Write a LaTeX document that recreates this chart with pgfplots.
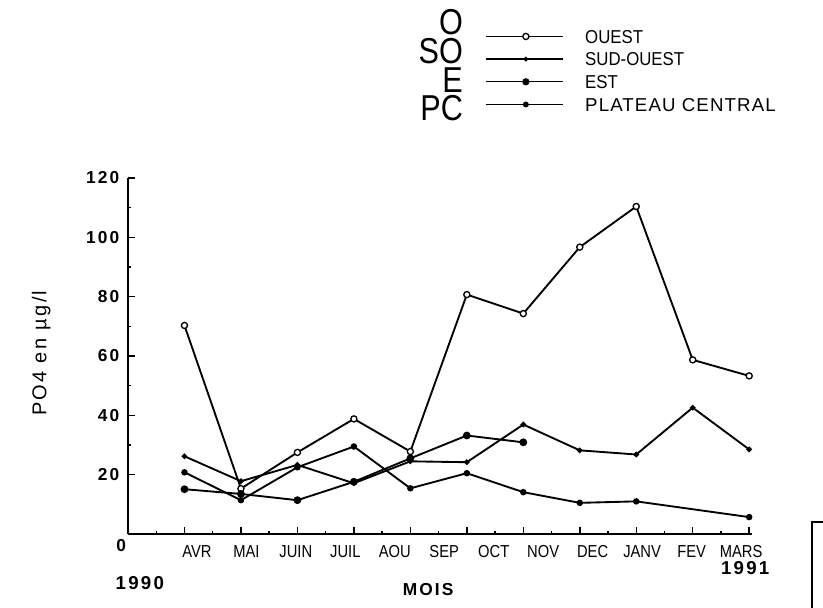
\documentclass[border=0pt]{standalone}
\usepackage{fontspec}
\setmainfont{Liberation Sans}
\newfontfamily\narrowfont[FakeStretch=0.9]{Liberation Sans}
\newfontfamily\monthfont[FakeStretch=0.85]{Liberation Sans}
\newfontfamily\widefont[LetterSpace=6]{Liberation Sans}
\newfontfamily\spacedfont[LetterSpace=12]{Liberation Sans}
\usepackage{graphicx}
\usepackage{pgfplots}
\pgfplotsset{compat=1.18}

\begin{document}
\begin{tikzpicture}
% frame of the scan: 823x607 px at 0.75pt/px, axis corner at px (128,534)
\useasboundingbox (-96pt,-54.75pt) rectangle (521.25pt,400.5pt);
\begin{axis}[
    at={(0pt,0pt)}, anchor=south west,
    scale only axis, width=468pt, height=267pt,
    xmin=0, xmax=11.05, ymin=0, ymax=120,
    axis x line*=bottom, axis y line*=left,
    axis line style={line width=1.6pt},
    xtick={0,...,11}, xticklabels={},
    minor x tick num=1,
    ytick={20,40,...,120}, minor y tick num=1,
    tick align=inside,
    major tick length=5pt, minor tick length=2.5pt,
    every tick/.style={black, line width=1.1pt},
    /pgf/number format/assume math mode=true,
    yticklabel style={font=\bfseries\spacedfont\fontsize{13}{13}\selectfont, xshift=-3pt},
    extra y ticks={0},
    extra y tick style={yticklabel style={yshift=-9pt, xshift=5pt}},
    % month names are set tighter than the ticks in the original
    extra x ticks={1.22,2.096,2.972,3.848,4.724,5.6,6.476,7.352,8.228,9.104,9.98,10.856},
    extra x tick labels={AVR,MAI,JUIN,JUIL,AOU,SEP,OCT,NOV,DEC,JANV,FEV,MARS},
    extra x tick style={major tick length=0pt, every tick/.style={draw=none},
        xticklabel style={font=\monthfont\fontsize{13}{13}\selectfont, yshift=-5pt}},
    ylabel={PO4 en µg/l},
    ylabel style={at={(axis description cs:-0.139,0.508)}, anchor=center,
        font=\spacedfont\fontsize{15}{15}\selectfont},
    xlabel={MOIS},
    xlabel style={at={(axis description cs:0.481,-0.157)}, anchor=center,
        font=\bfseries\spacedfont\fontsize{13}{13}\selectfont},
    legend style={at={(axis description cs:0.572,1.417)}, anchor=north west,
        draw=none, fill=none, inner sep=0pt, row sep=7pt,
        cells={anchor=west},
        nodes={inner sep=0pt, text height=10pt, text depth=0pt,
            font=\narrowfont\fontsize{14}{14}\selectfont},
        /tikz/every odd column/.append style={column sep=16pt}},
    legend image code/.code={
        \draw[mark repeat=2,mark phase=2,#1,line width=1pt] plot coordinates {(0pt,0pt) (30pt,0pt) (58pt,0pt)};
    },
    clip=false,
]
% OUEST
\addplot[black, line width=1.4pt, mark=*, mark size=2.3pt,
    mark options={fill=white, line width=1pt}] coordinates {
(1,70.3) (2,15.3) (3,27.5) (4,38.8) (5,27.8) (6,80.7)
(7,74.3) (8,96.7) (9,110.4) (10,58.7) (11,53.3)};
% SUD-OUEST
\addplot[black, line width=1.4pt, mark=*, mark size=1.3pt] coordinates {
(1,26.2) (2,17.8) (3,23.3) (4,17.1) (5,24.5) (6,24.2)
(7,36.9) (8,28.2) (9,26.8) (10,42.6) (11,28.5)};
% EST
\addplot[black, line width=1.4pt, mark=*, mark size=2.2pt] coordinates {
(1,15.1) (2,13.5) (3,11.4) (4,17.6) (5,25.5) (6,33.2) (7,30.9)};
% PLATEAU CENTRAL
\addplot[black, line width=1.4pt, mark=*, mark size=1.7pt] coordinates {
(1,20.8) (2,11.4) (3,22.5) (4,29.5) (5,15.4) (6,20.5)
(7,14.1) (8,10.5) (9,11) (11,5.7)};
\legend{OUEST,SUD-OUEST,EST,{\widefont PLATEAU CENTRAL}}

% big row letters, set tight as in the original
\node[anchor=east, inner sep=0pt, xscale=0.85, font=\fontsize{27}{27}\selectfont]
    at (axis description cs:0.537,1.438) {O};
\node[anchor=east, inner sep=0pt, xscale=0.85, font=\fontsize{27}{27}\selectfont]
    at (axis description cs:0.537,1.357) {SO};
\node[anchor=east, inner sep=0pt, xscale=0.85, font=\fontsize{27}{27}\selectfont]
    at (axis description cs:0.537,1.276) {E};
\node[anchor=east, inner sep=0pt, xscale=0.85, font=\fontsize{27}{27}\selectfont]
    at (axis description cs:0.537,1.195) {PC};

\node[font=\bfseries\spacedfont\fontsize{14}{14}\selectfont]
    at (axis description cs:0.019,-0.138) {1990};
\node[font=\bfseries\spacedfont\fontsize{14}{14}\selectfont]
    at (axis description cs:0.989,-0.097) {1991};
\end{axis}
% edge of a frame cut by the scan, bottom right
\draw[line width=2.2pt] (513pt,-57pt) -- (513pt,9pt) -- (524pt,9pt);
\end{tikzpicture}
\end{document}
